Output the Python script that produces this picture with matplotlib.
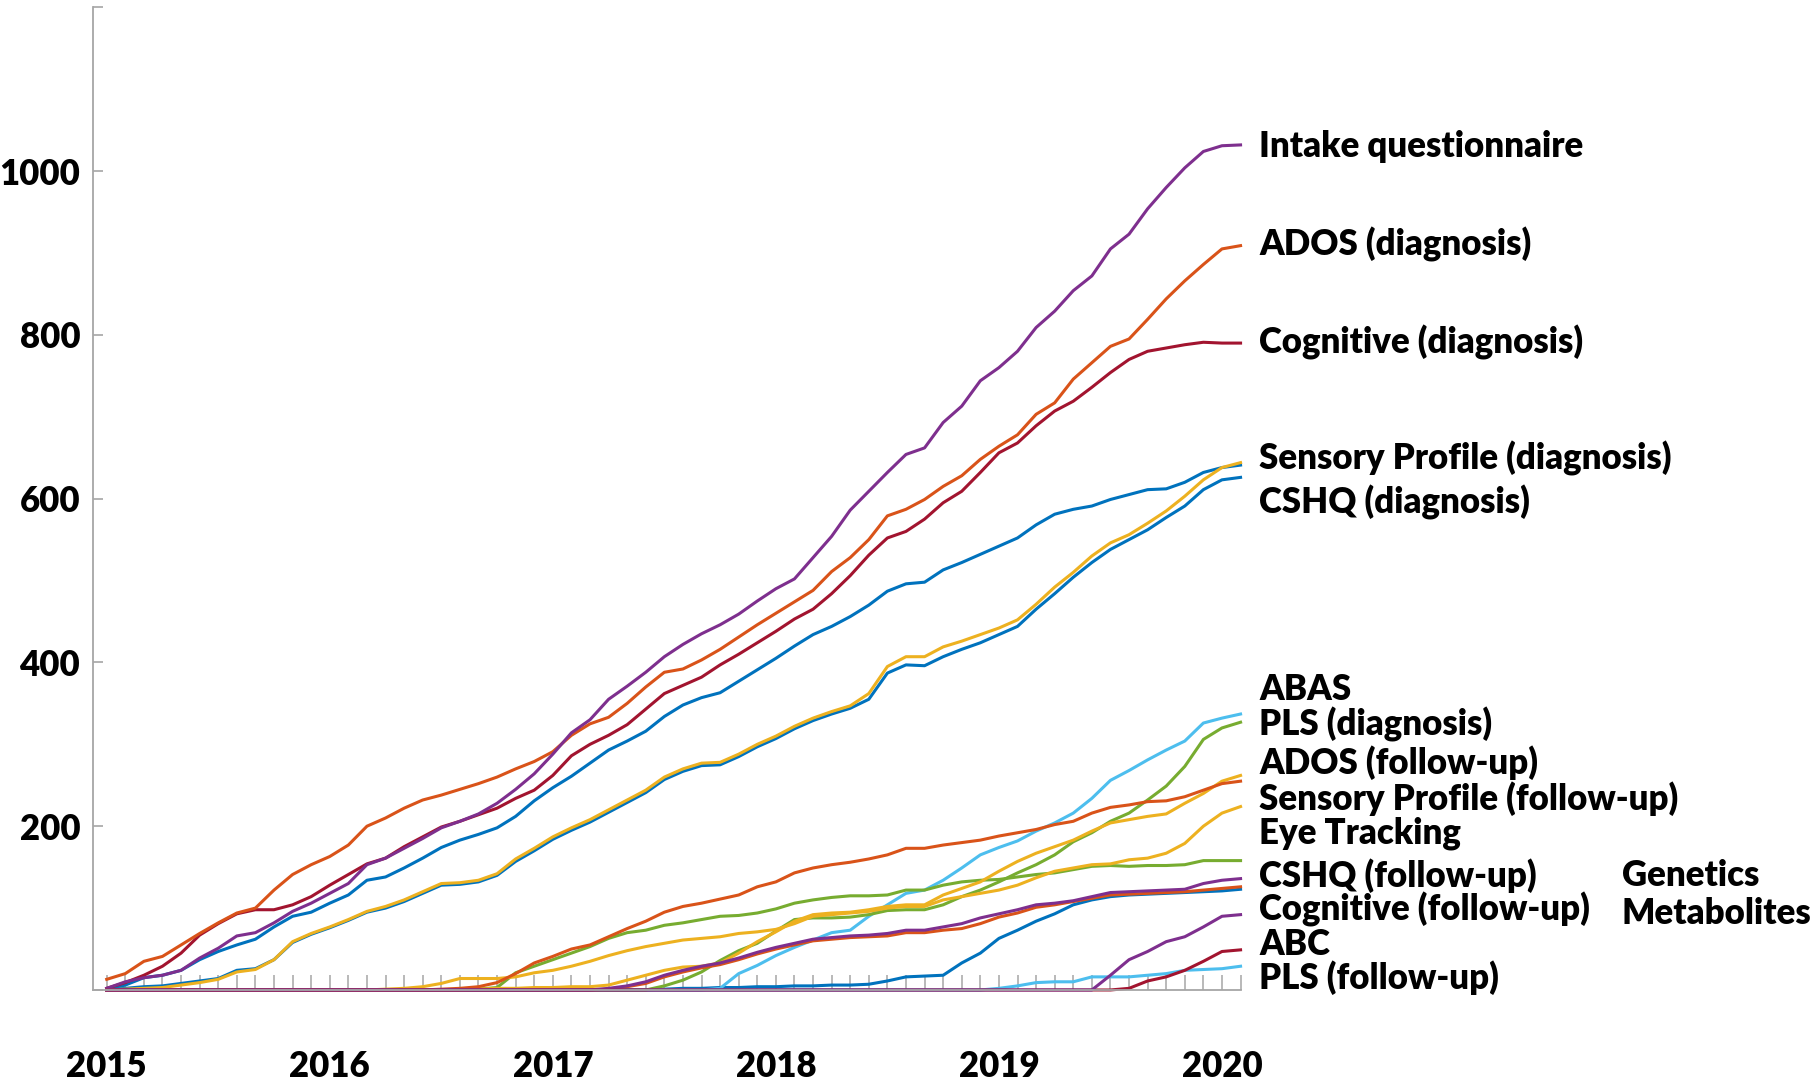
import matplotlib.pyplot as plt
from matplotlib.ticker import FixedLocator

# Monthly cumulative counts, Jan 2015 .. Feb 2020 (62 months)
years = [2015, 2016, 2017, 2018, 2019, 2020]

intake = [2, 10, 15, 18, 24, 39, 51, 66, 70, 82, 96, 106, 118, 130, 153, 161, 173, 185, 198, 206, 215, 228, 245,
          264, 288, 314, 330, 355, 371, 388, 407, 422, 435, 446, 459, 475, 490, 502, 528, 554, 586,
          609, 632, 654, 662, 693, 713, 744, 760, 780, 809, 829, 854, 872, 905, 923, 954, 980, 1004, 1024, 1031, 1032]
ados_dx = [13, 20, 35, 41, 55, 69, 82, 94, 100, 122, 141, 153, 163, 177, 200, 210, 222, 232, 238, 245, 252, 260, 270,
           279, 291, 311, 325, 333, 350, 370, 388, 392, 403, 416, 431, 446, 460, 474, 488, 511, 528,
           550, 579, 587, 599, 615, 628, 648, 664, 678, 703, 717, 746, 766, 786, 795, 819, 844, 866, 886, 905, 909]
cog_dx = [2, 9, 18, 29, 45, 67, 81, 93, 98, 98, 104, 114, 128, 141, 154, 161, 175, 187, 199, 206, 214, 222, 234,
          244, 262, 286, 300, 311, 324, 343, 362, 372, 382, 397, 410, 424, 438, 453, 465, 484, 506,
          531, 552, 560, 575, 595, 609, 632, 656, 668, 689, 707, 719, 736, 754, 770, 780, 784, 788, 791, 790, 790]
sensory_dx = [0, 1, 2, 3, 6, 9, 13, 22, 25, 37, 59, 69, 77, 86, 96, 102, 110, 120, 130, 131, 134, 142, 160,
              173, 187, 198, 208, 220, 232, 244, 260, 270, 277, 278, 288, 300, 310, 322, 332, 340, 347,
              362, 395, 407, 407, 419, 426, 434, 442, 452, 471, 492, 510, 530, 546, 556, 570, 585, 603, 623, 638, 644]
cshq_dx = [0, 2, 4, 5, 8, 11, 14, 24, 26, 37, 58, 68, 76, 85, 95, 100, 108, 118, 128, 129, 132, 140, 157,
           170, 184, 195, 205, 217, 229, 241, 257, 267, 274, 275, 285, 297, 307, 319, 329, 337, 344,
           355, 387, 397, 396, 407, 416, 424, 434, 444, 465, 484, 504, 522, 538, 550, 562, 577, 591, 611, 623, 626]
abas = [1, 6, 15, 18, 24, 37, 47, 55, 62, 77, 90, 95, 106, 116, 134, 138, 149, 161, 174, 183, 190, 198, 212,
        231, 247, 261, 277, 293, 304, 316, 334, 348, 357, 363, 377, 391, 405, 420, 434, 444, 456,
        470, 487, 496, 498, 513, 522, 532, 542, 552, 568, 581, 587, 591, 599, 605, 611, 612, 620, 632, 638, 641]
pls_dx = [0, 0, 0, 0, 0, 0, 0, 0, 0, 0, 0, 0, 0, 0, 0, 0, 0, 0, 0, 0, 0, 0, 0,
          0, 0, 0, 0, 0, 0, 0, 0, 0, 0, 2, 20, 30, 42, 52, 61, 70, 73,
          90, 104, 118, 122, 134, 149, 165, 174, 182, 194, 204, 216, 234, 256, 268, 281, 293, 304, 326, 332, 337]
ados_fu = [0, 0, 0, 0, 0, 0, 0, 0, 0, 0, 0, 0, 0, 0, 0, 0, 0, 0, 0, 0, 0, 0, 0,
           0, 0, 0, 0, 0, 0, 0, 5, 12, 22, 36, 48, 57, 72, 86, 88, 88, 89,
           92, 97, 98, 98, 104, 114, 122, 132, 143, 153, 165, 181, 192, 206, 216, 232, 249, 273, 306, 320, 327]
sensory_fu = [0, 0, 0, 0, 0, 0, 0, 0, 0, 0, 0, 0, 0, 0, 0, 0, 0, 0, 0, 0, 1, 2, 2,
              3, 3, 4, 4, 6, 12, 18, 24, 28, 29, 33, 45, 59, 71, 84, 92, 94, 95,
              98, 102, 104, 104, 116, 124, 132, 145, 157, 167, 175, 183, 194, 204, 208, 212, 215, 228, 240, 255, 262]
eye_tracking = [0, 0, 0, 0, 0, 0, 0, 0, 0, 0, 0, 0, 0, 0, 0, 0, 0, 0, 1, 2, 4, 9, 20,
                33, 41, 50, 55, 65, 75, 84, 95, 102, 106, 111, 116, 126, 132, 143, 149, 153, 156,
                160, 165, 173, 173, 177, 180, 183, 188, 192, 196, 202, 206, 216, 223, 226, 230, 231, 236, 244, 252, 255]
cshq_fu = [0, 0, 0, 0, 0, 0, 0, 0, 0, 0, 0, 0, 0, 0, 0, 1, 2, 4, 8, 14, 14, 14, 16,
           21, 24, 29, 35, 42, 48, 53, 57, 61, 63, 65, 69, 71, 74, 81, 90, 92, 94,
           96, 100, 102, 102, 110, 114, 118, 122, 128, 137, 145, 149, 153, 154, 159, 161, 167, 179, 200, 216, 224]
cog_fu = [0, 0, 0, 0, 0, 0, 0, 0, 0, 0, 0, 0, 0, 0, 0, 0, 0, 0, 0, 0, 1, 3, 21,
          29, 37, 45, 53, 63, 70, 73, 79, 82, 86, 90, 91, 94, 99, 106, 110, 113, 115,
          115, 116, 122, 122, 128, 132, 134, 135, 138, 141, 143, 147, 151, 152, 151, 152, 152, 153, 158, 158, 158]
abc = [0, 0, 0, 0, 0, 0, 0, 0, 0, 0, 0, 0, 0, 0, 0, 0, 0, 0, 0, 0, 0, 0, 0,
       0, 0, 0, 0, 2, 5, 10, 18, 24, 29, 33, 39, 46, 52, 57, 62, 64, 66,
       67, 69, 73, 73, 77, 81, 88, 93, 98, 104, 106, 109, 114, 119, 120, 121, 122, 123, 130, 134, 136]
pls_fu = [0, 0, 0, 0, 0, 0, 0, 0, 0, 0, 0, 0, 0, 0, 0, 0, 0, 0, 0, 0, 0, 0, 0,
          0, 0, 0, 0, 1, 4, 8, 16, 22, 27, 31, 37, 44, 50, 55, 60, 62, 64,
          65, 66, 70, 70, 73, 75, 81, 89, 94, 101, 104, 108, 112, 116, 117, 118, 119, 120, 122, 124, 126]
genetics = [0, 0, 0, 0, 0, 0, 0, 0, 0, 0, 0, 0, 0, 0, 0, 0, 0, 0, 0, 0, 0, 0, 0,
            0, 0, 0, 0, 0, 0, 0, 1, 2, 2, 3, 3, 4, 4, 5, 5, 6, 6,
            7, 11, 16, 17, 18, 33, 45, 63, 73, 84, 93, 104, 110, 114, 116, 117, 118, 119, 120, 121, 123]
metabolites = [0, 0, 0, 0, 0, 0, 0, 0, 0, 0, 0, 0, 0, 0, 0, 0, 0, 0, 0, 0, 0, 0, 0,
               0, 0, 0, 0, 0, 0, 0, 0, 0, 0, 0, 0, 0, 0, 0, 0, 0, 0,
               0, 0, 0, 0, 0, 0, 0, 2, 5, 9, 10, 10, 16, 16, 16, 18, 20, 24, 25, 26, 29]
extra_a = [0, 0, 0, 0, 0, 0, 0, 0, 0, 0, 0, 0, 0, 0, 0, 0, 0, 0, 0, 0, 0, 0, 0,
           0, 0, 0, 0, 0, 0, 0, 0, 0, 0, 0, 0, 0, 0, 0, 0, 0, 0,
           0, 0, 0, 0, 0, 0, 0, 0, 0, 0, 0, 0, 0, 18, 37, 47, 59, 65, 77, 90, 92]
extra_b = [0, 0, 0, 0, 0, 0, 0, 0, 0, 0, 0, 0, 0, 0, 0, 0, 0, 0, 0, 0, 0, 0, 0,
           0, 0, 0, 0, 0, 0, 0, 0, 0, 0, 0, 0, 0, 0, 0, 0, 0, 0,
           0, 0, 0, 0, 0, 0, 0, 0, 0, 0, 0, 0, 0, 0, 2, 11, 16, 24, 35, 47, 49]

# label text and the y value where each label sits
labels = ['Intake questionnaire', 'ADOS (diagnosis)', 'Cognitive (diagnosis)',
          'Sensory Profile (diagnosis)', 'CSHQ (diagnosis)', 'ABAS', 'PLS (diagnosis)',
          'ADOS (follow-up)', 'Sensory Profile (follow-up)', 'Eye Tracking',
          'CSHQ (follow-up)', 'Cognitive (follow-up)', 'ABC', 'PLS (follow-up)']
label_y = [1030, 910, 791, 649, 596, 367, 324, 277, 234, 192, 140, 98, 55, 15]
side_labels = ['Genetics', 'Metabolites']
side_y = [140, 93]

BLUE, ORANGE, YELLOW, PURPLE = '#0072BD', '#D95319', '#EDB120', '#7E2F8E'
GREEN, LBLUE, DRED = '#77AC30', '#4DBEEE', '#A2142F'

lines = [
    (genetics, BLUE), (cshq_dx, BLUE), (abas, BLUE), (sensory_dx, YELLOW),
    (cog_dx, DRED), (ados_dx, ORANGE), (intake, PURPLE),
    (metabolites, LBLUE), (pls_dx, LBLUE), (cog_fu, GREEN), (ados_fu, GREEN),
    (cshq_fu, YELLOW), (sensory_fu, YELLOW), (eye_tracking, ORANGE),
    (pls_fu, ORANGE), (abc, PURPLE), (extra_b, DRED), (extra_a, PURPLE),
]

plt.rcParams['font.family'] = ['DejaVu Sans Condensed', 'Lato', 'DejaVu Sans']

fig = plt.figure(figsize=(18.19, 10.81), dpi=100)
ax = fig.add_axes([0.051, 0.0842, 0.631, 0.909])

months = list(range(len(intake)))
for values, color in lines:
    ax.plot(months, values, color=color, lw=2.2, solid_joinstyle='round', clip_on=False)

ax.set_xlim(-0.75, 61)
ax.set_ylim(0, 1200)

# axes styling
for side in ['top', 'right']:
    ax.spines[side].set_visible(False)
for side in ['left', 'bottom']:
    ax.spines[side].set_color('#a6a6a6')
    ax.spines[side].set_linewidth(1.3)

ax.set_yticks([0, 200, 400, 600, 800, 1000, 1200])
ax.set_yticklabels(['', '200', '400', '600', '800', '1000', ''])
ax.tick_params(axis='y', direction='in', length=7, width=1.2, color='#a6a6a6',
               labelsize=25, pad=9)

ax.set_xticks([12 * i for i in range(len(years))])
ax.set_xticklabels([str(y) for y in years])
ax.xaxis.set_minor_locator(FixedLocator(months))
ax.tick_params(axis='x', which='both', direction='in', length=11, width=1.1,
               color='#a6a6a6', labelsize=25, pad=43)

for lab in ax.get_xticklabels() + ax.get_yticklabels():
    lab.set_fontweight('heavy')

for text, y in zip(labels, label_y):
    ax.text(62.0, y, text, fontsize=25, fontweight='heavy', va='center', ha='left', clip_on=False)
for text, y in zip(side_labels, side_y):
    ax.text(81.5, y, text, fontsize=25, fontweight='heavy', va='center', ha='left', clip_on=False)

plt.savefig('out.png', dpi=100)
